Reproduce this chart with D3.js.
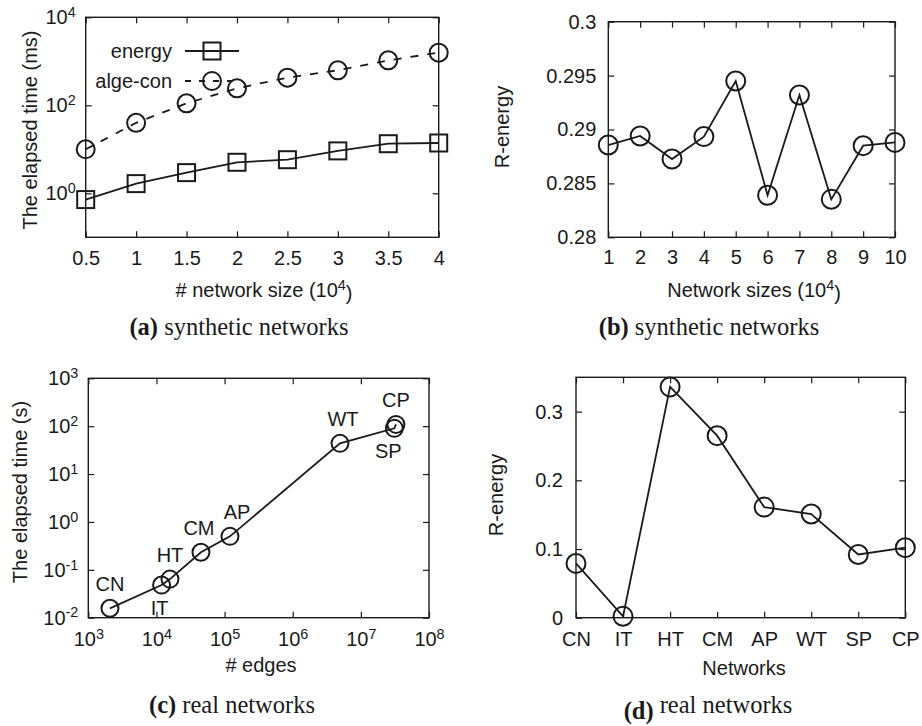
<!DOCTYPE html>
<html>
<head>
<meta charset="utf-8">
<script src="https://cdn.jsdelivr.net/npm/d3@7"></script>
<style>
  body { margin: 0; background: #fff; }
  svg { display: block; }
</style>
</head>
<body>
<svg id="fig" width="922" height="726"></svg>
<script>
// (a) elapsed time on synthetic networks
const sizesA = [0.5, 1, 1.5, 2, 2.5, 3, 3.5, 4];
const energyMs = [0.72, 1.66, 2.95, 5.07, 5.8, 9.2, 13.4, 13.9];
const algeConMs = [10, 40, 111, 243, 425, 624, 1050, 1574];
const yTicksA = [1, 100, 10000];

// (b) R-energy on synthetic networks
const sizesB = [1, 2, 3, 4, 5, 6, 7, 8, 9, 10];
const rEnergySyn = [0.28856, 0.2894, 0.28726, 0.28934, 0.2945, 0.2839, 0.2932, 0.28352, 0.2885, 0.2888];
const yTicksB = [0.28, 0.285, 0.29, 0.295, 0.3];

// (c), (d) real networks
const realNets = ["CN", "IT", "HT", "CM", "AP", "WT", "SP", "CP"];
const realEdges = [2080, 11900, 15800, 45000, 120000, 4.94e6, 3.1e7, 3.27e7];
const realTimeS = [0.0157, 0.048, 0.064, 0.232, 0.5, 43.8, 90, 109];
const realREnergy = [0.079, 0.002, 0.336, 0.265, 0.161, 0.151, 0.092, 0.102];
const yTicksD = [0, 0.1, 0.2, 0.3];

// where the names sit next to the points in (c)
const labelSide = ["above", "below", "above", "above", "above", "above", "below", "above"];
const labelDx = [0, -2, 0, -2, 7, 3, -6, 0];

const svg = d3.select("#fig");
const sans = "'Liberation Sans', Arial, sans-serif";
const serif = "'Liberation Serif', 'Times New Roman', serif";
const ink = "#1a1a1a";
const lw = 1.8, mw = 2;

function powLabels(sel) {
  sel.selectAll(".tick text").each(function (d) {
    const t = d3.select(this).text("");
    t.append("tspan").text("10");
    t.append("tspan").attr("dy", "-0.5em").attr("font-size", "0.72em")
      .text(Math.round(Math.log10(d)));
  });
}

function frame(x, y, o) {
  const g = svg.append("g").attr("color", ink);
  const [xl, xr] = x.range(), [yb, yt] = y.range();

  const bottom = g.append("g").attr("transform", `translate(0,${yb})`)
    .call(d3.axisBottom(x).tickValues(o.xTicks).tickSizeInner(-6).tickSizeOuter(0)
      .tickPadding(o.xPad).tickFormat(o.xFormat || null));
  const left = g.append("g").attr("transform", `translate(${xl},0)`)
    .call(d3.axisLeft(y).tickValues(o.yTicks).tickSizeInner(-6).tickSizeOuter(0)
      .tickPadding(o.yPad).tickFormat(o.yFormat || null));
  g.append("g").attr("transform", `translate(0,${yt})`)
    .call(d3.axisTop(x).tickValues(o.xTicks).tickSizeInner(-6).tickSizeOuter(0).tickFormat(""));
  g.append("g").attr("transform", `translate(${xr},0)`)
    .call(d3.axisRight(y).tickValues(o.yTicks).tickSizeInner(-6).tickSizeOuter(0).tickFormat(""));

  g.selectAll(".domain").remove();
  g.selectAll(".tick line").attr("stroke-width", 1.2);
  g.selectAll("g").attr("font-family", sans).attr("font-size", 20);
  if (o.xPow) powLabels(bottom);
  if (o.yPow) powLabels(left);

  g.append("rect")
    .attr("x", xl).attr("y", yt)
    .attr("width", xr - xl).attr("height", yb - yt)
    .attr("fill", "none").attr("stroke", ink).attr("stroke-width", 1.4);
  return g;
}

function yTitle(x, y, label) {
  svg.append("text")
    .attr("transform", `translate(${x},${y}) rotate(-90)`)
    .attr("text-anchor", "middle").attr("dy", "0.35em")
    .attr("font-family", sans).attr("font-size", 20).attr("fill", ink)
    .text(label);
}

function xTitle(x, y, before, sup, after) {
  const t = svg.append("text")
    .attr("x", x).attr("y", y).attr("text-anchor", "middle")
    .attr("font-family", sans).attr("font-size", 20).attr("fill", ink);
  t.append("tspan").text(before);
  if (sup) {
    t.append("tspan").attr("dy", "-0.5em").attr("font-size", "0.72em").text(sup);
    t.append("tspan").attr("dy", "0.5em").text(after);
  }
}

function caption(x, y, tag, rest, tagDy) {
  const t = svg.append("text")
    .attr("x", x).attr("y", y).attr("text-anchor", "middle")
    .attr("font-family", serif).attr("font-size", 24.5).attr("fill", ink);
  t.append("tspan").attr("font-weight", "bold").attr("dy", tagDy || 0).text(tag);
  t.append("tspan").attr("dy", -(tagDy || 0)).text("\u00a0" + rest);
}

const line = (x, y) => d3.line().x((d) => x(d[0])).y((d) => y(d[1]));

// ---------- (a) ----------
const xA = d3.scaleLinear().domain([0.5, 4]).range([85.7, 438.7]);
const yA = d3.scaleLog().domain([0.1, 10000]).range([237.3, 17.3]);
frame(xA, yA, {
  xTicks: sizesA, xPad: 14, xFormat: (d) => String(d),
  yTicks: yTicksA, yPad: 10, yPow: true,
});

const gA = svg.append("g");
const energyPts = sizesA.map((s, i) => [s, energyMs[i]]);
const algePts = sizesA.map((s, i) => [s, algeConMs[i]]);

gA.append("path").datum(energyPts).attr("d", line(xA, yA))
  .attr("fill", "none").attr("stroke", ink).attr("stroke-width", lw);
gA.append("path").datum(algePts).attr("d", line(xA, yA))
  .attr("fill", "none").attr("stroke", ink).attr("stroke-width", lw)
  .attr("stroke-dasharray", "8,9");

gA.selectAll(".sq").data(energyPts).join("rect").attr("class", "sq")
  .attr("x", (d) => xA(d[0]) - 8.5).attr("y", (d) => yA(d[1]) - 8.5)
  .attr("width", 17).attr("height", 17)
  .attr("fill", "none").attr("stroke", ink).attr("stroke-width", mw);
gA.selectAll(".ci").data(algePts).join("circle").attr("class", "ci")
  .attr("cx", (d) => xA(d[0])).attr("cy", (d) => yA(d[1])).attr("r", 9)
  .attr("fill", "none").attr("stroke", ink).attr("stroke-width", mw);

// legend
const legend = [
  { label: "energy", dash: null, mark: "square", y: 51 },
  { label: "alge-con", dash: "6,8", mark: "circle", y: 81 },
];
const lg = svg.append("g").selectAll("g").data(legend).join("g")
  .attr("transform", (d) => `translate(0,${d.y})`);
lg.append("text").attr("x", 172).attr("dy", "0.35em").attr("text-anchor", "end")
  .attr("font-family", sans).attr("font-size", 20).attr("fill", ink)
  .text((d) => d.label);
lg.append("line").attr("x1", 185).attr("x2", 239)
  .attr("stroke", ink).attr("stroke-width", lw)
  .attr("stroke-dasharray", (d) => d.dash);
lg.each(function (d) {
  const s = d3.select(this);
  if (d.mark === "square") {
    s.append("rect").attr("x", 212 - 8.5).attr("y", -8.5).attr("width", 17).attr("height", 17)
      .attr("fill", "none").attr("stroke", ink).attr("stroke-width", mw);
  } else {
    s.append("circle").attr("cx", 212).attr("r", 9)
      .attr("fill", "none").attr("stroke", ink).attr("stroke-width", mw);
  }
});

yTitle(30, 130, "The elapsed time (ms)");
xTitle(264, 297, "# network size (10", "4", ")");
caption(239, 335, "(a)", "synthetic networks");

// ---------- (b) ----------
const xB = d3.scaleLinear().domain([1, 10]).range([608.3, 895]);
const yB = d3.scaleLinear().domain([0.28, 0.3]).range([237.3, 21.7]);
frame(xB, yB, {
  xTicks: sizesB, xPad: 13, xFormat: d3.format("d"),
  yTicks: yTicksB, yPad: 12, yFormat: (d) => String(d),
});
const ptsB = sizesB.map((s, i) => [s, rEnergySyn[i]]);
const gB = svg.append("g");
gB.append("path").datum(ptsB).attr("d", line(xB, yB))
  .attr("fill", "none").attr("stroke", ink).attr("stroke-width", lw);
gB.selectAll("circle").data(ptsB).join("circle")
  .attr("cx", (d) => xB(d[0])).attr("cy", (d) => yB(d[1])).attr("r", 9.5)
  .attr("fill", "none").attr("stroke", ink).attr("stroke-width", mw);

yTitle(502, 127, "R-energy");
xTitle(754, 297, "Network sizes (10", "4", ")");
caption(709, 335, "(b)", "synthetic networks");

// ---------- (c) ----------
const xC = d3.scaleLog().domain([1e3, 1e8]).range([88.3, 429]);
const yC = d3.scaleLog().domain([1e-2, 1e3]).range([617.7, 378.3]);
frame(xC, yC, {
  xTicks: [1e3, 1e4, 1e5, 1e6, 1e7, 1e8], xPad: 14, xPow: true,
  yTicks: [1e-2, 1e-1, 1, 10, 100, 1000], yPad: 10, yPow: true,
});
const ptsC = realNets.map((n, i) => ({ name: n, e: realEdges[i], t: realTimeS[i], side: labelSide[i], dx: labelDx[i] }));
const gC = svg.append("g");
gC.append("path").datum(ptsC)
  .attr("d", d3.line().x((d) => xC(d.e)).y((d) => yC(d.t)))
  .attr("fill", "none").attr("stroke", ink).attr("stroke-width", lw);
gC.selectAll("circle").data(ptsC).join("circle")
  .attr("cx", (d) => xC(d.e)).attr("cy", (d) => yC(d.t)).attr("r", 8.5)
  .attr("fill", "none").attr("stroke", ink).attr("stroke-width", mw);
gC.selectAll("text").data(ptsC).join("text")
  .attr("x", (d) => xC(d.e) + d.dx)
  .attr("y", (d) => yC(d.t) + (d.side === "above" ? -24 : 23))
  .attr("dy", "0.35em").attr("text-anchor", "middle")
  .attr("font-family", sans).attr("font-size", 20).attr("fill", ink)
  .text((d) => d.name);

yTitle(20, 492, "The elapsed time (s)");
xTitle(261, 672, "# edges");
caption(232, 713, "(c)", "real networks");

// ---------- (d) ----------
const xD = d3.scalePoint().domain(realNets).range([576, 905.3]).padding(0);
const yD = d3.scaleLinear().domain([0, 0.35]).range([617.7, 377.3]);
frame(xD, yD, {
  xTicks: realNets, xPad: 14,
  yTicks: yTicksD, yPad: 13, yFormat: (d) => String(d),
});
const ptsD = realNets.map((n, i) => [n, realREnergy[i]]);
const gD = svg.append("g");
gD.append("path").datum(ptsD).attr("d", line(xD, yD))
  .attr("fill", "none").attr("stroke", ink).attr("stroke-width", lw);
gD.selectAll("circle").data(ptsD).join("circle")
  .attr("cx", (d) => xD(d[0])).attr("cy", (d) => yD(d[1])).attr("r", 9.5)
  .attr("fill", "none").attr("stroke", ink).attr("stroke-width", mw);

yTitle(496, 495, "R-energy");
xTitle(744, 675, "Networks");
caption(708, 713, "(d)", "real networks", 6);
</script>
</body>
</html>
